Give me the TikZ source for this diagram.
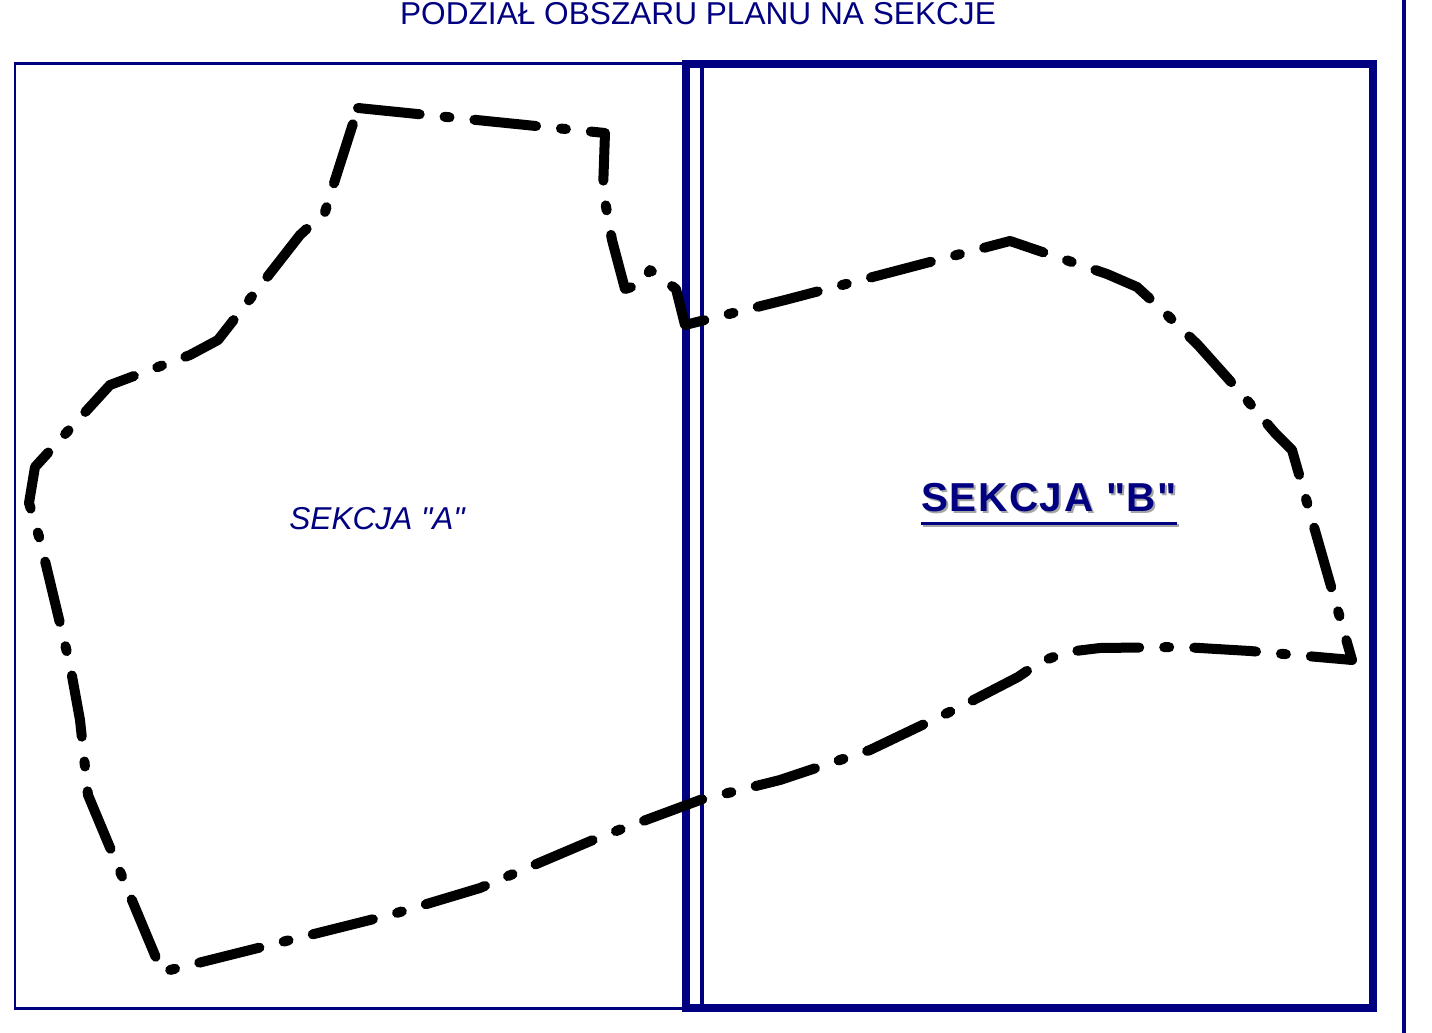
\documentclass[tikz,border=0pt]{standalone}
\usepackage{fontspec}
\setmainfont{Liberation Sans}[Ligatures=TeXOff]
\definecolor{granat}{RGB}{0,0,128}
\definecolor{cien}{RGB}{165,165,165}
\begin{document}
\begin{tikzpicture}[x=0.02cm,y=-0.02cm,
  ramka/.style={draw=granat,line width=0.06cm},
  granica/.style={line width=0.2cm,line cap=round,line join=round,
    dash pattern=on 1.24cm off 0.5cm on 0.1cm off 0.5cm},
  napisB/.style={inner sep=0pt,font=\bfseries\fontsize{23}{26}\selectfont\addfontfeatures{LetterSpace=4}}]
\useasboundingbox (0,0) rectangle (1432,1033);
% ramki sekcji
\draw[ramka] (15,64) rectangle (686,1008);
\draw[ramka,line width=0.08cm] (702,64) -- (702,1008);
\draw[ramka,line width=0.16cm] (686,64) rectangle (1373,1008);
\draw[ramka,line width=0.08cm] (1404,0) -- (1404,1033);
% granica obszaru planu
\draw[granica] (358,108) -- (605,133) -- (603,190) -- (612,240) -- (625,289) -- (642,284)
  -- (650,270) -- (676,289) -- (685,325) -- (785,300) -- (1010,241) -- (1107,274)
  -- (1137,287) -- (1160,308) -- (1198,345) -- (1240,392) -- (1275,433) -- (1292,450)
  -- (1352,660) -- (1250,651) -- (1183,647) -- (1100,648) -- (1067,652) -- (1040,662)
  -- (1018,677) -- (962,706) -- (870,750) -- (780,780) -- (700,800) -- (600,837)
  -- (480,888) -- (390,915) -- (162,972) -- (88,795) -- (80,720) -- (70,665)
  -- (40,540) -- (29,503) -- (35,467) -- (110,385) -- (190,355) -- (218,340)
  -- (300,235) -- (325,212) -- (335,180) -- cycle;
% napisy
\node[text=granat,font=\fontsize{18}{20}\selectfont] (tytul) at (698,14) {PODZIAŁ OBSZARU PLANU NA SEKCJE};
\node[text=granat,font=\itshape\fontsize{18}{20}\selectfont] (sekcjaA) at (377,519) {SEKCJA "A"};
\node[napisB,text=cien] (cienB) at (1051,500) {SEKCJA "B"};
\node[napisB,text=granat] (sekcjaB) at (1049,498) {SEKCJA "B"};
\draw[cien,line width=0.06cm] ([xshift=0.04cm,yshift=-0.28cm]sekcjaB.base west) -- ([xshift=0.04cm,yshift=-0.28cm]sekcjaB.base east);
\draw[granat,line width=0.06cm] ([yshift=-0.24cm]sekcjaB.base west) -- ([yshift=-0.24cm]sekcjaB.base east);
\end{tikzpicture}
\end{document}
